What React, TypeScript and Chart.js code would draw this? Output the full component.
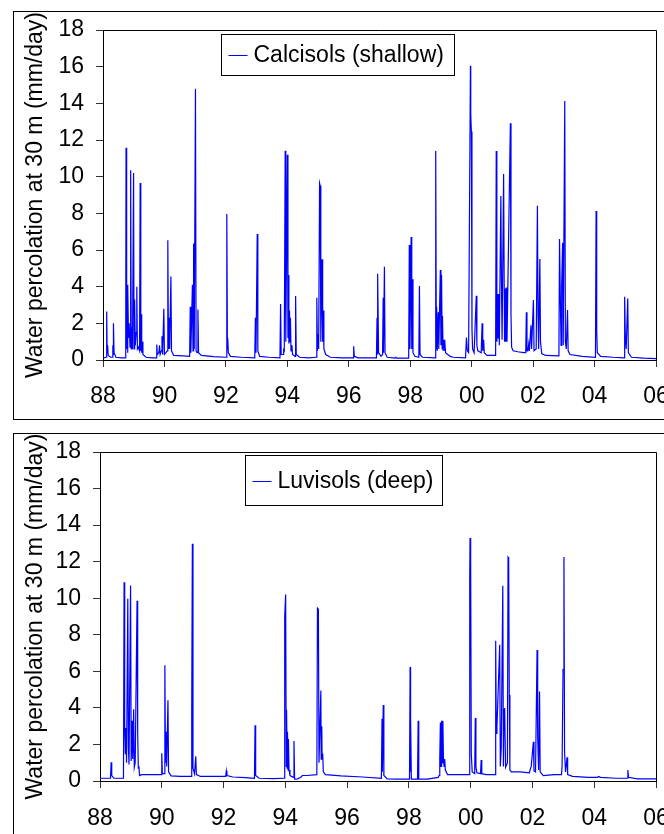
import React, { useEffect, useRef } from 'react';
import { Chart, registerables } from 'chart.js';

Chart.register(...registerables);

const FONT = '"Liberation Sans", Arial, Helvetica, sans-serif';

const xTickLabels = ['88', '90', '92', '94', '96', '98', '00', '02', '04', '06'];
const yTitle = 'Water percolation at 30 m (mm/day)';

const calcLabel = 'Calcisols (shallow)';
const calcYears = [
  1988.00, 1988.10, 1988.12, 1988.135, 1988.15, 1988.17, 1988.25, 1988.31, 1988.32, 1988.335,
  1988.34, 1988.36, 1988.42, 1988.60, 1988.73, 1988.74, 1988.75, 1988.76, 1988.77, 1988.78,
  1988.79, 1988.80, 1988.81, 1988.83, 1988.85, 1988.88, 1988.90, 1988.92, 1988.94, 1988.96,
  1988.995, 1989.01, 1989.03, 1989.05, 1989.08, 1989.10, 1989.12, 1989.15, 1989.19, 1989.21,
  1989.23, 1989.24, 1989.26, 1989.27, 1989.30, 1989.40, 1989.60, 1989.73, 1989.75, 1989.77,
  1989.82, 1989.84, 1989.86, 1989.90, 1989.92, 1989.94, 1989.98, 1990.00, 1990.05, 1990.09,
  1990.11, 1990.13, 1990.15, 1990.17, 1990.21, 1990.23, 1990.30, 1990.60, 1990.82, 1990.84,
  1990.86, 1990.91, 1990.93, 1990.95, 1990.97, 1991.01, 1991.03, 1991.06, 1991.09, 1991.11,
  1991.20, 1991.60, 1992.01, 1992.03, 1992.05, 1992.06, 1992.08, 1992.15, 1992.50, 1992.94,
  1992.96, 1992.98, 1993.02, 1993.04, 1993.10, 1993.40, 1993.76, 1993.78, 1993.80, 1993.86,
  1993.88, 1993.90, 1993.93, 1993.95, 1994.00, 1994.02, 1994.03, 1994.05, 1994.07, 1994.09,
  1994.10, 1994.12, 1994.15, 1994.17, 1994.25, 1994.27, 1994.29, 1994.40, 1994.70, 1994.94,
  1994.96, 1994.98, 1995.00, 1995.02, 1995.05, 1995.07, 1995.09, 1995.13, 1995.15, 1995.17,
  1995.19, 1995.25, 1995.40, 1995.80, 1996.14, 1996.16, 1996.18, 1996.30, 1996.90, 1996.92,
  1996.93, 1996.95, 1996.97, 1997.05, 1997.10, 1997.12, 1997.13, 1997.16, 1997.18, 1997.25,
  1997.50, 1997.53, 1997.56, 1997.95, 1997.97, 1997.99, 1998.03, 1998.05, 1998.07, 1998.09,
  1998.15, 1998.28, 1998.30, 1998.32, 1998.40, 1998.81, 1998.83, 1998.85, 1998.86, 1998.88,
  1998.91, 1998.93, 1998.98, 1999.00, 1999.02, 1999.04, 1999.05, 1999.07, 1999.10, 1999.12,
  1999.13, 1999.15, 1999.22, 1999.30, 1999.40, 1999.80, 1999.83, 1999.86, 1999.90, 1999.96,
  1999.97, 1999.99, 2000.01, 2000.03, 2000.08, 2000.15, 2000.17, 2000.20, 2000.31, 2000.34,
  2000.36, 2000.39, 2000.41, 2000.50, 2000.78, 2000.80, 2000.82, 2000.84, 2000.86, 2000.88,
  2000.90, 2000.95, 2000.97, 2000.99, 2001.04, 2001.06, 2001.07, 2001.09, 2001.11, 2001.13,
  2001.15, 2001.26, 2001.28, 2001.30, 2001.35, 2001.50, 2001.70, 2001.76, 2001.78, 2001.80,
  2001.83, 2001.86, 2001.88, 2001.93, 2001.95, 2002.01, 2002.03, 2002.10, 2002.14, 2002.16,
  2002.18, 2002.22, 2002.24, 2002.28, 2002.40, 2002.84, 2002.86, 2002.88, 2002.91, 2002.93,
  2002.96, 2002.98, 2003.03, 2003.05, 2003.08, 2003.12, 2003.14, 2003.20, 2003.60, 2004.03,
  2004.05, 2004.07, 2004.09, 2004.20, 2004.60, 2004.96, 2004.98, 2005.00, 2005.03, 2005.08,
  2005.10, 2005.20, 2005.60, 2006.00,
];
const calcValues = [
  0.10, 0.15, 2.65, 0.4, 0.8, 0.25, 0.15, 0.15, 0.8, 0.3,
  2.0, 0.4, 0.15, 0.12, 0.12, 1.1, 11.58, 0.6, 4.1, 1.5,
  4.1, 0.4, 4.1, 1.2, 2.0, 0.7, 10.35, 0.6, 1.8, 0.6,
  10.2, 0.6, 3.3, 0.8, 1.5, 4.0, 0.6, 0.7, 0.5, 9.65,
  0.5, 2.5, 0.4, 1.0, 0.3, 0.15, 0.12, 0.12, 0.85, 0.3,
  0.4, 0.8, 0.3, 0.5, 1.3, 0.3, 2.8, 0.3, 0.4, 0.5,
  6.53, 0.6, 2.3, 0.6, 4.55, 0.5, 0.25, 0.22, 0.2, 2.9,
  0.4, 4.1, 0.5, 6.35, 0.6, 14.8, 0.5, 0.4, 2.75, 0.4,
  0.25, 0.18, 0.15, 7.97, 0.6, 1.2, 0.4, 0.2, 0.15, 0.12,
  2.3, 0.4, 6.87, 0.5, 0.2, 0.15, 0.12, 3.05, 0.3, 0.3,
  0.55, 0.5, 11.42, 1.0, 11.2, 1.2, 4.63, 0.9, 2.7, 1.0,
  2.3, 0.5, 0.8, 0.3, 0.2, 3.49, 0.3, 0.15, 0.12, 0.15,
  3.4, 0.5, 1.4, 0.6, 9.64, 9.5, 1.0, 5.49, 1.0, 2.7,
  0.6, 0.3, 0.15, 0.12, 0.12, 0.75, 0.2, 0.12, 0.12, 2.3,
  0.3, 4.71, 0.4, 0.2, 0.3, 3.4, 0.4, 5.09, 0.4, 0.15,
  0.1, 0.15, 0.1, 0.1, 6.27, 0.6, 6.71, 0.6, 4.4, 0.4,
  0.2, 0.15, 4.04, 0.3, 0.15, 0.12, 11.4, 0.6, 2.9, 0.5,
  2.6, 0.6, 4.91, 0.8, 4.63, 0.6, 2.4, 0.5, 1.1, 0.5,
  1.0, 0.4, 0.3, 0.2, 0.15, 0.12, 1.22, 0.5, 0.4, 16.05,
  13.37, 12.46, 1.7, 0.6, 0.4, 3.51, 0.8, 0.5, 0.4, 2.0,
  0.5, 1.1, 0.4, 0.25, 0.25, 11.4, 1.0, 3.6, 1.2, 3.6,
  0.8, 8.95, 4.2, 1.1, 10.15, 3.7, 1.0, 3.9, 1.0, 3.95,
  1.0, 12.91, 2.5, 0.7, 0.5, 0.45, 0.4, 0.4, 2.6, 0.5,
  0.5, 0.9, 0.5, 1.9, 0.6, 3.27, 0.5, 0.6, 8.42, 2.5,
  0.6, 5.51, 1.0, 0.35, 0.25, 0.22, 6.6, 4.1, 0.8, 4.1,
  6.4, 0.8, 14.13, 1.0, 0.6, 2.73, 0.5, 0.3, 0.2, 0.15,
  8.13, 1.6, 0.4, 0.2, 0.15, 0.12, 3.45, 1.4, 0.6, 3.35,
  0.4, 0.15, 0.1, 0.08,
];

const luvLabel = 'Luvisols (deep)';
const luvYears = [
  1988.00, 1988.34, 1988.36, 1988.38, 1988.45, 1988.76, 1988.78, 1988.80, 1988.82, 1988.84,
  1988.86, 1988.90, 1988.92, 1988.94, 1988.99, 1989.01, 1989.04, 1989.06, 1989.09, 1989.11,
  1989.14, 1989.20, 1989.22, 1989.24, 1989.26, 1989.28, 1989.35, 1989.60, 1989.98, 1990.00,
  1990.02, 1990.08, 1990.10, 1990.12, 1990.14, 1990.16, 1990.20, 1990.22, 1990.30, 1990.60,
  1990.95, 1990.97, 1990.99, 1991.01, 1991.06, 1991.10, 1991.12, 1991.25, 1991.70, 1992.07,
  1992.09, 1992.11, 1992.30, 1992.70, 1993.00, 1993.02, 1993.04, 1993.15, 1993.60, 1993.96,
  1993.98, 1994.01, 1994.03, 1994.04, 1994.06, 1994.07, 1994.09, 1994.10, 1994.12, 1994.15,
  1994.26, 1994.28, 1994.30, 1994.40, 1994.50, 1994.55, 1994.70, 1995.02, 1995.04, 1995.07,
  1995.09, 1995.15, 1995.16, 1995.18, 1995.19, 1995.21, 1995.23, 1995.30, 1995.80, 1996.50,
  1997.11, 1997.13, 1997.14, 1997.17, 1997.19, 1997.30, 1997.60, 1998.02, 1998.04, 1998.05,
  1998.06, 1998.08, 1998.28, 1998.30, 1998.32, 1998.60, 1998.95, 1998.98, 1999.00, 1999.02,
  1999.04, 1999.06, 1999.08, 1999.10, 1999.12, 1999.14, 1999.16, 1999.18, 1999.25, 1999.60,
  1999.95, 1999.97, 1999.98, 2000.00, 2000.02, 2000.05, 2000.13, 2000.15, 2000.17, 2000.20,
  2000.32, 2000.34, 2000.36, 2000.50, 2000.79, 2000.81, 2000.83, 2000.85, 2000.88, 2000.94,
  2000.96, 2000.99, 2001.04, 2001.06, 2001.08, 2001.10, 2001.13, 2001.19, 2001.21, 2001.23,
  2001.25, 2001.27, 2001.32, 2001.60, 2001.90, 2001.94, 2001.96, 2002.03, 2002.05, 2002.10,
  2002.15, 2002.17, 2002.20, 2002.23, 2002.25, 2002.35, 2002.70, 2002.94, 2002.96, 2002.99,
  2003.02, 2003.04, 2003.07, 2003.12, 2003.14, 2003.30, 2003.80, 2004.10, 2004.15, 2004.20,
  2004.70, 2005.07, 2005.09, 2005.11, 2005.40, 2006.00,
];
const luvValues = [
  0.15, 0.15, 1.02, 0.3, 0.15, 0.15, 10.88, 2.95, 1.5, 2.9,
  1.0, 9.97, 1.8, 0.9, 10.7, 1.1, 3.3, 1.2, 3.93, 0.75,
  1.0, 9.86, 2.7, 0.7, 0.8, 0.3, 0.35, 0.35, 0.35, 1.52,
  0.4, 0.4, 6.33, 1.0, 2.7, 0.8, 4.42, 0.5, 0.28, 0.25,
  0.25, 3.9, 12.98, 0.7, 0.4, 1.35, 0.35, 0.25, 0.25, 0.25,
  0.55, 0.3, 0.22, 0.18, 0.15, 3.05, 0.3, 0.15, 0.13, 0.15,
  9.0, 10.2, 0.8, 3.9, 0.7, 2.7, 0.6, 2.3, 0.6, 0.3,
  0.2, 2.19, 0.1, 0.12, 0.2, 0.3, 0.3, 0.35, 9.46, 9.4,
  1.0, 4.95, 1.2, 3.0, 1.3, 1.5, 0.5, 0.35, 0.28, 0.22,
  0.15, 3.4, 0.5, 4.16, 0.3, 0.12, 0.1, 0.1, 6.24, 0.5,
  3.45, 0.1, 0.1, 3.3, 0.1, 0.1, 0.2, 0.3, 1.2, 3.2,
  0.8, 3.3, 1.0, 3.3, 1.1, 0.8, 1.2, 0.6, 0.35, 0.35,
  0.35, 11.0, 13.29, 11.9, 1.5, 0.5, 0.4, 3.45, 0.8, 0.45,
  0.4, 1.15, 0.4, 0.35, 0.35, 7.67, 2.6, 2.95, 4.4, 7.45,
  0.8, 1.8, 10.68, 0.8, 3.9, 4.0, 0.75, 1.0, 12.25, 12.2,
  4.7, 0.6, 0.5, 0.5, 0.45, 0.7, 0.8, 2.15, 0.55, 0.5,
  7.17, 2.4, 0.6, 4.89, 0.5, 0.3, 0.35, 0.35, 0.8, 6.1,
  12.25, 1.6, 0.5, 1.3, 0.35, 0.25, 0.2, 0.2, 0.25, 0.2,
  0.15, 0.15, 0.6, 0.2, 0.12, 0.12,
];

const framePlugin = {
  id: 'frame',
  afterDatasetsDraw(chart: any) {
    const { ctx, chartArea: a } = chart;
    ctx.save();
    ctx.strokeStyle = '#000';
    ctx.lineWidth = 1;
    ctx.beginPath();
    const t = Math.round(a.top) + 0.5;
    const r = Math.round(a.right) + 0.5;
    ctx.moveTo(a.left, t);
    ctx.lineTo(r, t);
    ctx.lineTo(r, a.bottom);
    ctx.stroke();
    ctx.restore();
  },
};

const boxLegendPlugin = {
  id: 'boxLegend',
  afterDraw(chart: any, _args: any, opts: any) {
    const { ctx, chartArea: a } = chart;
    const ds = chart.data.datasets[0];
    const x = Math.round(a.left + opts.dx) + 0.5;
    const y = Math.round(a.top + opts.dy) + 0.5;
    ctx.save();
    ctx.fillStyle = '#fff';
    ctx.fillRect(x, y, opts.w, opts.h);
    ctx.strokeStyle = '#000';
    ctx.lineWidth = 1;
    ctx.strokeRect(x, y, opts.w, opts.h);
    const cy = y + opts.h / 2;
    ctx.strokeStyle = ds.borderColor;
    ctx.beginPath();
    ctx.moveTo(x + opts.lineX0, Math.round(cy) + 0.5);
    ctx.lineTo(x + opts.lineX1, Math.round(cy) + 0.5);
    ctx.stroke();
    ctx.fillStyle = '#000';
    ctx.font = `${opts.fontSize}px ${FONT}`;
    ctx.textBaseline = 'middle';
    ctx.textAlign = 'left';
    ctx.fillText(ds.label, x + opts.textX, cy + 1);
    ctx.restore();
  },
};

type PanelProps = {
  years: number[];
  values: number[];
  label: string;
  top: number;
  yWidth: number;
  xHeight: number;
  padTop: number;
  xPad: number;
  legend: any;
};

function Panel({ years, values, label, top, yWidth, xHeight, padTop, xPad, legend }: PanelProps) {
  const ref = useRef<HTMLCanvasElement | null>(null);
  useEffect(() => {
    if (!ref.current) return;
    const data = years.map((x, i) => ({ x, y: values[i] }));
    const chart = new Chart(ref.current, {
      type: 'line',
      data: {
        datasets: [
          {
            label,
            data,
            borderColor: '#0000ff',
            backgroundColor: '#0000ff',
            borderWidth: 1.2,
            pointRadius: 0,
            tension: 0,
            fill: false,
          },
        ],
      },
      options: {
        responsive: false,
        animation: false,
        events: [],
        layout: { padding: { top: padTop, right: 58, left: 0, bottom: 0 } },
        plugins: {
          legend: { display: false },
          tooltip: { enabled: false },
          boxLegend: legend,
        } as any,
        scales: {
          x: {
            type: 'linear',
            min: 1988,
            max: 2006,
            afterFit: (s: any) => {
              s.height = xHeight;
              s.paddingLeft = 0;
              s.paddingRight = 0;
            },
            border: { display: true, color: '#000', width: 1 },
            grid: { drawOnChartArea: false, drawTicks: true, tickLength: 7, color: '#333' },
            ticks: {
              stepSize: 2,
              autoSkip: false,
              maxRotation: 0,
              padding: xPad,
              color: '#000',
              font: { family: FONT, size: 23 },
              callback: (_v: any, i: number) => xTickLabels[i],
            },
          },
          y: {
            min: 0,
            max: 18,
            afterFit: (s: any) => {
              s.width = yWidth;
              s.paddingTop = 0;
              s.paddingBottom = 0;
            },
            border: { display: true, color: '#000', width: 1 },
            grid: { drawOnChartArea: false, drawTicks: true, tickLength: 7, color: '#333' },
            ticks: {
              stepSize: 2,
              padding: 12,
              color: '#000',
              font: { family: FONT, size: 23 },
            },
            title: {
              display: true,
              text: yTitle,
              color: '#000',
              font: { family: FONT, size: 23 },
              padding: { top: 8, bottom: 0 },
            },
          },
        },
      },
      plugins: [framePlugin, boxLegendPlugin],
    });
    return () => chart.destroy();
  }, []);

  return (
    <div
      style={{
        position: 'absolute',
        left: 13,
        top,
        width: 700,
        height: 407,
        border: '1px solid #000',
        background: '#fff',
      }}
    >
      <canvas ref={ref} width={700} height={407} style={{ position: 'absolute', left: 0, top: 0 }} />
    </div>
  );
}

export default function App() {
  return (
    <div
      style={{
        position: 'fixed',
        left: 0,
        top: 0,
        width: 664,
        height: 834,
        overflow: 'hidden',
        background: '#fff',
      }}
    >
      <Panel
        years={calcYears}
        values={calcValues}
        label={calcLabel}
        top={11}
        yWidth={89}
        xHeight={59}
        padTop={18}
        xPad={16}
        legend={{ dx: 118, dy: 4, w: 233, h: 41, lineX0: 7, lineX1: 26, textX: 32, fontSize: 23 }}
      />
      <Panel
        years={luvYears}
        values={luvValues}
        label={luvLabel}
        top={433}
        yWidth={86}
        xHeight={60}
        padTop={18}
        xPad={17}
        legend={{ dx: 145, dy: 3, w: 197, h: 50, lineX0: 7, lineX1: 26, textX: 32, fontSize: 23 }}
      />
    </div>
  );
}
